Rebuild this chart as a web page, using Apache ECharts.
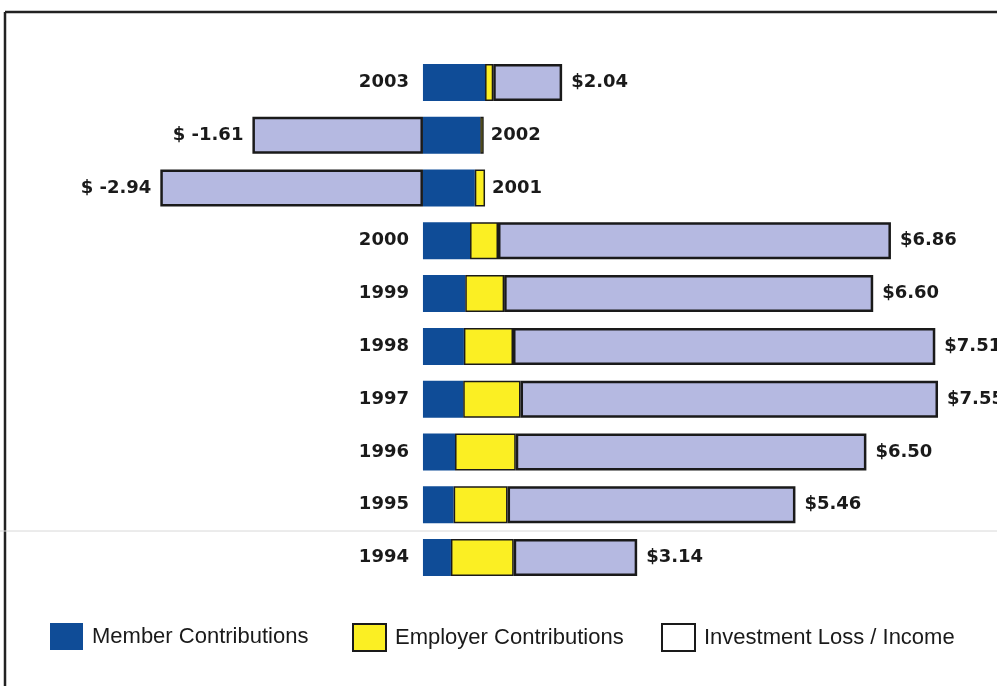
<!DOCTYPE html>
<html>
<head>
<meta charset="utf-8">
<script src="https://cdn.jsdelivr.net/npm/echarts@6/dist/echarts.min.js"></script>
<style>
  html, body { margin: 0; padding: 0; background: #fff; }
  #chart { width: 997px; height: 686px; }
</style>
</head>
<body>
<div id="chart"></div>
<script>
// data, top row first
var years = ['2003', '2002', '2001', '2000', '1999', '1998', '1997', '1996', '1995', '1994'];
var member = [0.91, 0.84, 0.76, 0.69, 0.62, 0.60, 0.59, 0.47, 0.45, 0.41];
var employer = [0.12, 0.05, 0.15, 0.41, 0.57, 0.72, 0.84, 0.89, 0.79, 0.92];
var totals = [2.04, -1.61, -2.94, 6.86, 6.60, 7.51, 7.55, 6.50, 5.46, 3.14];
// investment loss / income = total - contributions
var invest = totals.map(function (t, i) {
  return +(t - member[i] - employer[i]).toFixed(2);
});

var colors = ['#0f4c97', '#fbef23', '#b5b9e1'];
var edge = '#1a1a1a';
var labelFont = {
  fontFamily: 'DejaVu Sans',
  fontWeight: 'bold',
  fontSize: 18,
  color: '#1a1a1a'
};

function money(v) {
  return v < 0 ? '$ ' + v.toFixed(2) : '$' + v.toFixed(2);
}

// year label sits left of the bar, unless the bar goes negative
var memberData = member.map(function (v, i) {
  return {
    value: v,
    label: {
      show: totals[i] >= 0,
      position: 'left',
      distance: 14,
      formatter: years[i]
    }
  };
});
var employerData = employer.map(function (v, i) {
  return {
    value: v,
    label: {
      show: totals[i] < 0,
      position: 'right',
      distance: 7,
      formatter: years[i]
    }
  };
});
var investData = invest.map(function (v, i) {
  return {
    value: v,
    label: {
      show: true,
      position: v < 0 ? 'left' : 'right',
      distance: 9,
      formatter: money(totals[i])
    }
  };
});

var legendText = {
  fontFamily: 'Liberation Sans',
  fontSize: 22,
  color: '#1a1a1a',
  padding: [0, 0, 0, 4]
};
function legendAt(x, name, style) {
  return {
    left: x,
    top: 623,
    padding: 0,
    itemWidth: 33,
    itemHeight: 27,
    selectedMode: false,
    textStyle: legendText,
    data: [{ name: name, icon: 'rect', itemStyle: style }]
  };
}

var chart = echarts.init(document.getElementById('chart'));
chart.setOption({
  animation: false,
  grid: { left: 0, right: 1, top: 56, height: 528 },
  xAxis: {
    type: 'value',
    min: -6.2,
    max: 8.4,
    show: false
  },
  yAxis: {
    type: 'category',
    data: years,
    inverse: true,
    show: false
  },
  legend: [
    legendAt(50, 'Member Contributions', { color: colors[0], borderWidth: 0 }),
    legendAt(352, 'Employer Contributions', { color: colors[1], borderColor: edge, borderWidth: 2 }),
    legendAt(661, 'Investment Loss / Income', { color: '#fff', borderColor: edge, borderWidth: 2 })
  ],
  graphic: [
    { type: 'line', shape: { x1: 5, y1: 12, x2: 5, y2: 686 }, style: { stroke: '#222', lineWidth: 2.5 } },
    { type: 'line', shape: { x1: 5, y1: 12, x2: 997, y2: 12 }, style: { stroke: '#222', lineWidth: 2.5 } },
    { type: 'line', shape: { x1: 0, y1: 531, x2: 997, y2: 531 }, style: { stroke: '#d8d8d8', lineWidth: 1 } }
  ],
  series: [
    {
      name: 'Member Contributions',
      type: 'bar',
      stack: 'total',
      barWidth: 37,
      itemStyle: { color: colors[0] },
      label: labelFont,
      data: memberData
    },
    {
      name: 'Employer Contributions',
      type: 'bar',
      stack: 'total',
      itemStyle: { color: colors[1], borderColor: edge, borderWidth: 1.5 },
      label: labelFont,
      data: employerData
    },
    {
      name: 'Investment Loss / Income',
      type: 'bar',
      stack: 'total',
      itemStyle: { color: colors[2], borderColor: edge, borderWidth: 2.5 },
      label: labelFont,
      data: investData
    }
  ]
});
</script>
</body>
</html>
